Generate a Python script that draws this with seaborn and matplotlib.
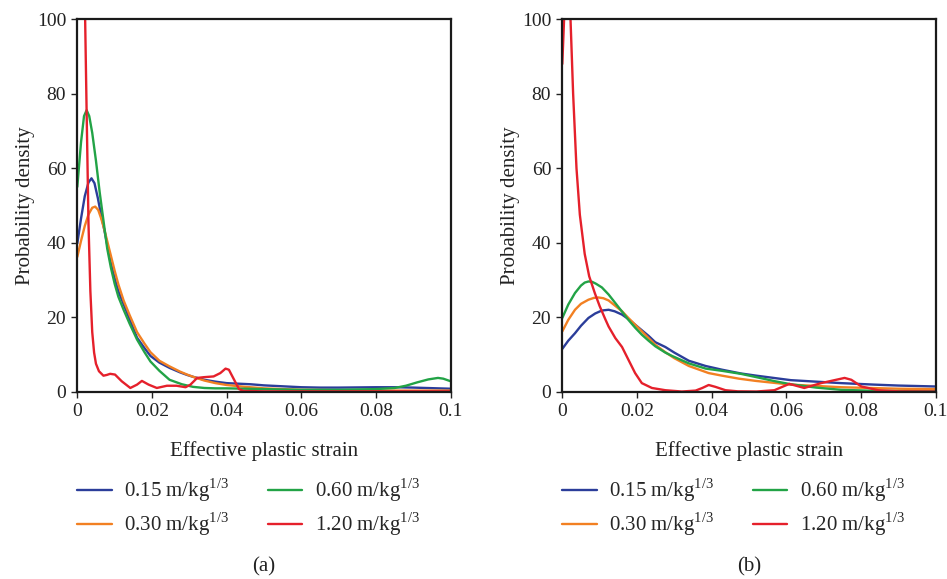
import matplotlib
matplotlib.use("Agg")
import matplotlib.pyplot as plt
import numpy as np
import pandas as pd
import seaborn as sns

# ---- series labels and colours ----
series_names = [r"0.15 m/kg$^{\mathregular{1/3}}$", r"0.30 m/kg$^{\mathregular{1/3}}$",
                r"0.60 m/kg$^{\mathregular{1/3}}$", r"1.20 m/kg$^{\mathregular{1/3}}$"]
series_colors = ["#2B3D9A", "#F28022", "#22A346", "#E5202B"]

x_ticks = [0, 0.02, 0.04, 0.06, 0.08, 0.1]
x_tick_labels = ["0", "0.02", "0.04", "0.06", "0.08", "0.1"]
y_ticks = [0, 20, 40, 60, 80, 100]
panel_tags = ["(a)", "(b)"]

# ---- panel (a): density curves ----
a_x_015 = [0, .001, .002, .003, .0038, .0046, .0055, .0064, .0072, .008, .009, .010, .011, .0124, .014,
           .016, .018, .0196, .022, .0247, .0275, .0294, .031, .034, .037, .040, .0464, .050, .055, .060,
           .065, .070, .075, .080, .085, .090, .095, .100]
a_y_015 = [39.8, 46.5, 52.5, 56.2, 57.3, 56.0, 52.0, 47.3, 43.6, 39.5, 34.5, 30.5, 27.0, 23.5, 19.5,
           14.5, 11.7, 9.6, 7.8, 6.4, 5.2, 4.5, 4.0, 3.2, 2.7, 2.3, 2.0, 1.7, 1.45, 1.2,
           1.1, 1.1, 1.15, 1.2, 1.2, 1.1, 0.95, 0.8]

a_x_030 = [0, .001, .002, .003, .004, .0048, .0056, .0064, .0072, .008, .009, .010, .011, .0124, .014,
           .016, .018, .0196, .022, .0247, .0275, .0294, .031, .034, .037, .040, .045, .050, .060, .070,
           .080, .090, .100]
a_y_030 = [36.2, 40.5, 44.5, 47.6, 49.4, 49.7, 48.8, 46.5, 43.7, 40.5, 36.5, 32.5, 28.8, 24.5, 20.6,
           16.0, 12.9, 10.6, 8.3, 6.8, 5.4, 4.6, 4.0, 3.0, 2.3, 1.8, 1.3, 0.9, 0.5, 0.4,
           0.3, 0.3, 0.3]

a_x_060 = [0, .001, .0018, .0025, .0032, .004, .005, .006, .0072, .008, .009, .010, .011, .0124, .014,
           .016, .018, .0196, .022, .0247, .028, .031, .034, .037, .040, .045, .050, .060, .070, .080,
           .085, .088, .091, .094, .0966, .098, .100]
a_y_060 = [55, 67, 74, 75.6, 74, 69.5, 62, 53.5, 44.5, 38.5, 33.3, 29, 25.5, 22.0, 18.3,
           14.0, 10.6, 8.1, 5.6, 3.2, 2.0, 1.3, 1.0, 0.9, 0.9, 0.8, 0.7, 0.5, 0.5, 0.7,
           1.0, 1.6, 2.5, 3.3, 3.7, 3.5, 2.8]

a_x_120 = [0, .0015, .0021, .0025, .003, .0035, .004, .0045, .005, .0058, .007, .0079, .0088, .0101,
           .0119, .0142, .016, .0173, .0191, .0213, .024, .0266, .029, .0303, .0321, .0339, .0365,
           .0383, .0397, .0406, .042, .0433, .0445, .050, .060, .070, .080, .090, .100]
a_y_120 = [400, 160, 100, 75, 45, 27, 16, 10.5, 7.5, 5.5, 4.3, 4.5, 4.8, 4.6,
           2.8, 1.0, 1.9, 2.9, 1.9, 1.0, 1.6, 1.6, 1.2, 1.9, 3.7, 3.9, 4.1,
           5.0, 6.2, 5.9, 3.2, 0.7, 0.2, 0.1, 0.1, 0.1, 0.1, 0.1, 0.1]

# ---- panel (b): density curves ----
b_x_015 = [0, .0016, .0034, .005, .007, .0088, .0106, .0124, .014, .016, .0177, .0195, .0213, .0231,
           .0249, .0276, .030, .0339, .0384, .0428, .0478, .052, .0612, .0747, .0836, .090, .100]
b_y_015 = [11.5, 13.7, 15.7, 17.7, 19.8, 21.0, 21.8, 22.0, 21.6, 20.7, 19.5, 18.0, 16.5, 15.0,
           13.3, 12.0, 10.5, 8.3, 6.9, 5.9, 4.9, 4.3, 3.1, 2.3, 1.9, 1.65, 1.4]

b_x_030 = [0, .0016, .0034, .005, .007, .0085, .0097, .011, .0124, .014, .016, .0177, .0195, .0213,
           .0231, .0249, .0276, .030, .0339, .0392, .0428, .0473, .0518, .0612, .0747, .090, .100]
b_y_030 = [16.2, 19.3, 22.0, 23.6, 24.7, 25.2, 25.3, 25.1, 24.5, 23.2, 21.6, 19.8, 18.0, 16.2,
           14.4, 12.6, 10.6, 9.0, 6.9, 5.0, 4.3, 3.5, 2.9, 1.9, 1.2, 0.8, 0.7]

b_x_060 = [0, .0016, .0034, .005, .006, .007, .008, .009, .0106, .0124, .0142, .016, .0177, .0195,
           .0213, .0231, .0249, .0276, .0294, .0339, .0384, .0428, .0478, .052, .057, .0612, .068,
           .0747, .085, .100]
b_y_060 = [19.8, 23.4, 26.5, 28.5, 29.3, 29.6, 29.5, 29.0, 28.0, 26.1, 23.8, 21.5, 19.3, 17.2,
           15.3, 13.7, 12.2, 10.5, 9.6, 7.6, 6.2, 5.6, 4.8, 3.9, 2.8, 2.0, 1.1,
           0.5, 0.2, 0.1]

b_x_120 = [0, .0005, .0012, .0022, .0029, .0038, .0047, .006, .0072, .0087, .010, .0115, .0124, .0142,
           .016, .0177, .0195, .0213, .024, .0276, .032, .0357, .0375, .0392, .041, .0437, .047, .052,
           .0568, .0608, .0648, .0693, .0756, .0774, .0801, .0846, .090, .100]
b_y_120 = [88, 100.5, 112, 100, 80, 60, 47.5, 37, 31, 26.5, 23, 19.5, 17.5, 14.4,
           12.0, 8.6, 5.0, 2.3, 1.0, 0.4, 0.05, 0.3, 1.0, 1.8, 1.3, 0.4, 0.1, 0.05,
           0.4, 2.1, 1.0, 2.3, 3.7, 3.2, 1.4, 0.4, 0.1, 0.05]


def panel_frame(xs, ys):
    parts = []
    for name, x, y in zip(series_names, xs, ys):
        parts.append(pd.DataFrame({"strain": x, "density": y, "series": name}))
    return pd.concat(parts, ignore_index=True)


df_a = panel_frame([a_x_015, a_x_030, a_x_060, a_x_120], [a_y_015, a_y_030, a_y_060, a_y_120])
df_b = panel_frame([b_x_015, b_x_030, b_x_060, b_x_120], [b_y_015, b_y_030, b_y_060, b_y_120])

sns.set_style("ticks")
plt.rcParams["font.family"] = ["Liberation Serif", "DejaVu Serif"]
plt.rcParams["mathtext.fontset"] = "custom"
plt.rcParams["mathtext.rm"] = "Liberation Serif"

W, H = 947, 579
fig = plt.figure(figsize=(W / 100, H / 100), dpi=100)
fig.patch.set_facecolor("white")

ax_w, ax_h = 373.4 / W, 372.4 / H
ax_bottom = 1 - 391.7 / H
axes = [fig.add_axes([77.3 / W, ax_bottom, ax_w, ax_h]),
        fig.add_axes([562.3 / W, ax_bottom, ax_w, ax_h])]

for ax, df, tag in zip(axes, [df_a, df_b], panel_tags):
    sns.lineplot(data=df, x="strain", y="density", hue="series", hue_order=series_names,
                 palette=series_colors, estimator=None, sort=False, linewidth=1.7, ax=ax)
    leg = ax.get_legend()
    handles = list(leg.legend_handles)
    labels = [t.get_text() for t in leg.get_texts()]
    leg.remove()
    for h in handles:
        h.set_linewidth(1.7)

    ax.set_xlim(0, 0.1)
    ax.set_ylim(0, 100)
    ax.set_xticks(x_ticks, x_tick_labels)
    ax.set_yticks(y_ticks, [str(t) for t in y_ticks])
    ax.tick_params(direction="out", length=4, width=1, labelsize=14, colors="#222222",
                   pad=4)
    for sp in ax.spines.values():
        sp.set_visible(True)
        sp.set_linewidth(1.6)
        sp.set_color("#1a1a1a")

    ax.set_xlabel("Effective plastic strain", fontsize=15, color="#222222")
    ax.set_ylabel("Probability density", fontsize=15, color="#222222")
    ax.xaxis.set_label_coords(0.5, -0.132)
    ax.yaxis.set_label_coords(-0.113, 0.5)

    ax.legend(handles, labels, loc="upper left", bbox_to_anchor=(0.0, -0.228),
              ncol=2, frameon=False, fontsize=15, borderpad=0, borderaxespad=0,
              handlelength=1.65, handletextpad=0.6, columnspacing=1.85, labelspacing=0.32)

    pos = ax.get_position()
    fig.text(pos.x0 + pos.width / 2, 1 - 567 / H, tag, ha="center", va="center",
             fontsize=15, color="#222222")

fig.savefig("out.png", dpi=100, facecolor="white")
